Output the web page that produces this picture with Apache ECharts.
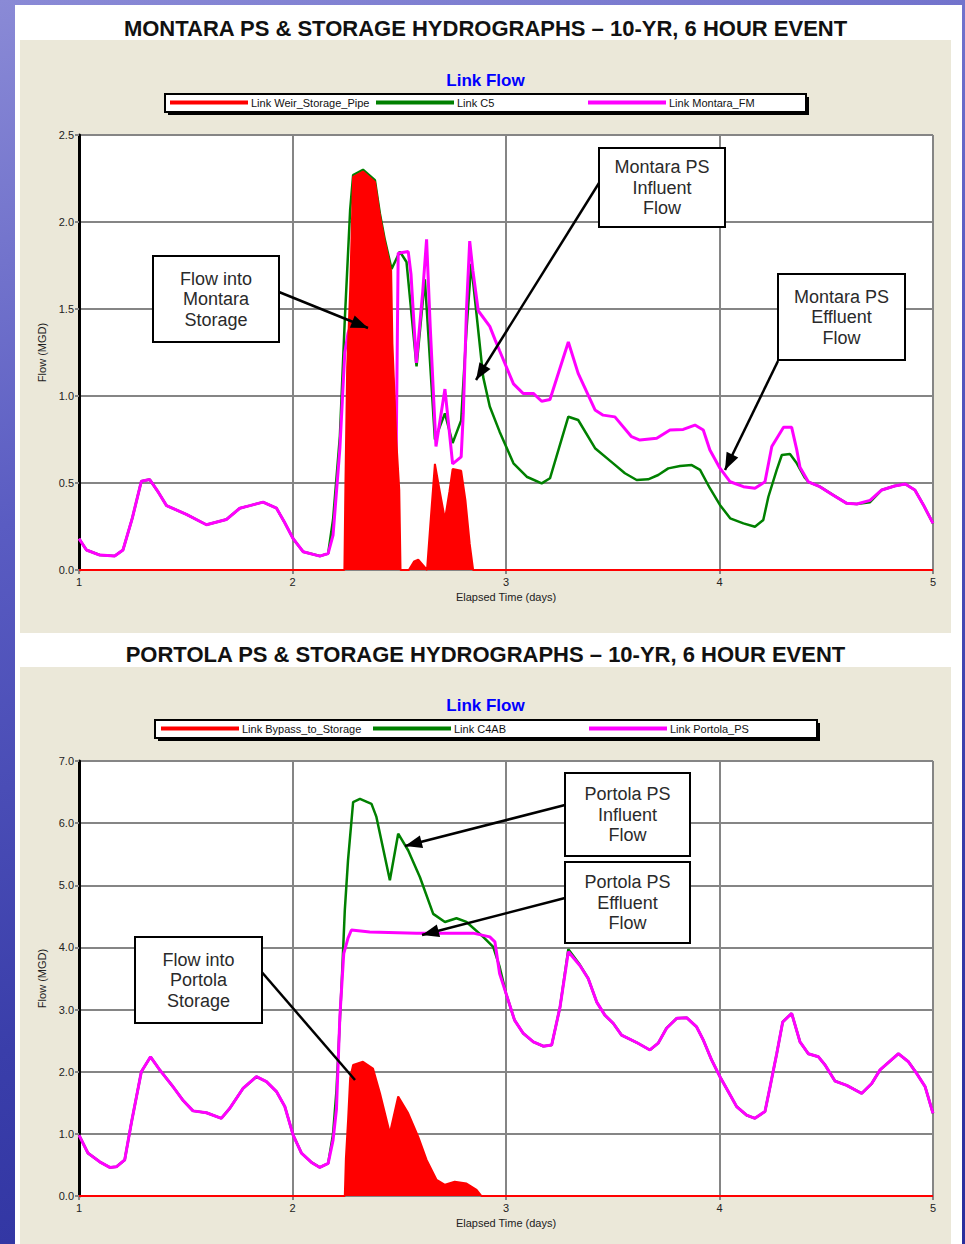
<!DOCTYPE html>
<html>
<head>
<meta charset="utf-8">
<title>Montara / Portola hydrographs</title>
<script src="https://cdn.jsdelivr.net/npm/echarts@6.0.0/dist/echarts.min.js"></script>
<style>
  html, body { margin: 0; padding: 0; }
  body {
    width: 965px; height: 1244px; position: relative; overflow: hidden;
    background: linear-gradient(165deg, #8a8ad6 0%, #5a5cc2 35%, #3a3eaa 70%, #2a2e9c 100%);
    font-family: 'Liberation Sans', Arial, sans-serif;
  }
  #sheet { position: absolute; left: 15px; top: 5px; width: 947px; height: 1239px; background: #fff; }
  .title {
    position: absolute; left: 20px; width: 931px; text-align: center;
    font-weight: bold; font-size: 22px; line-height: 26px; color: #111;
  }
  .panel { position: absolute; left: 20px; width: 931px; background: #ebe8d9; }
</style>
</head>
<body>
<div id="sheet"></div>
<div class="title" style="top:16px">MONTARA PS &amp; STORAGE HYDROGRAPHS – 10-YR, 6 HOUR EVENT</div>
<div class="panel" id="montara" style="top:40px;height:593px"></div>
<div class="title" style="top:642px">PORTOLA PS &amp; STORAGE HYDROGRAPHS – 10-YR, 6 HOUR EVENT</div>
<div class="panel" id="portola" style="top:667px;height:577px"></div>
<script>
// 横轴: 天 (1-5), 纵轴: 流量 MGD
var dayTicks = [1, 2, 3, 4, 5];

// ---- Montara ----
var montaraNames = ['Link Weir_Storage_Pipe', 'Link C5', 'Link Montara_FM'];
var montaraTicks = [0, 0.5, 1.0, 1.5, 2.0, 2.5];

// 进入蓄水池流量 (红色面积)
var montaraStorage = [
  [1.0, 0], [2.243, 0], [2.248, 0.5], [2.256, 1.16], [2.27, 1.61], [2.284, 2.26], [2.33, 2.29],
  [2.386, 2.23], [2.409, 2.04], [2.432, 1.89], [2.462, 1.72], [2.468, 1.30], [2.486, 0.75],
  [2.50, 0.46], [2.506, 0], [2.545, 0], [2.57, 0.05], [2.589, 0.06], [2.61, 0.03], [2.63, 0],
  [2.645, 0.25], [2.667, 0.61], [2.69, 0.45], [2.714, 0.29], [2.735, 0.45], [2.75, 0.58],
  [2.79, 0.57], [2.81, 0.40], [2.83, 0.15], [2.846, 0], [5.0, 0]
];

// C5 泵站进水
var montaraC5 = [
  [1.0, 0.18], [1.035, 0.115], [1.097, 0.086], [1.167, 0.08], [1.206, 0.115], [1.25, 0.30],
  [1.292, 0.51], [1.331, 0.52], [1.37, 0.45], [1.41, 0.37], [1.503, 0.32], [1.597, 0.26],
  [1.69, 0.29], [1.753, 0.355], [1.80, 0.37], [1.862, 0.39], [1.925, 0.355], [1.96, 0.28],
  [2.003, 0.18], [2.05, 0.105], [2.128, 0.08], [2.167, 0.095], [2.19, 0.29], [2.222, 0.77],
  [2.245, 1.44], [2.27, 2.07], [2.284, 2.27], [2.33, 2.30], [2.386, 2.24], [2.409, 2.05],
  [2.432, 1.90], [2.464, 1.73], [2.503, 1.83], [2.534, 1.77], [2.581, 1.17], [2.62, 1.67],
  [2.667, 0.75], [2.714, 0.90], [2.75, 0.73], [2.79, 0.86], [2.815, 1.38], [2.837, 1.76],
  [2.893, 1.11], [2.924, 0.94], [2.97, 0.795], [3.035, 0.613], [3.097, 0.536], [3.167, 0.498],
  [3.206, 0.527], [3.292, 0.881], [3.338, 0.862], [3.417, 0.70], [3.502, 0.613], [3.557, 0.556],
  [3.612, 0.517], [3.666, 0.521], [3.713, 0.546], [3.76, 0.584], [3.815, 0.598], [3.87, 0.603],
  [3.909, 0.575], [3.955, 0.47], [4.002, 0.374], [4.05, 0.297], [4.112, 0.268], [4.166, 0.249],
  [4.205, 0.287], [4.229, 0.421], [4.268, 0.575], [4.292, 0.661], [4.33, 0.667], [4.362, 0.613],
  [4.40, 0.53], [4.416, 0.507], [4.47, 0.479], [4.533, 0.43], [4.596, 0.383], [4.643, 0.379],
  [4.705, 0.39], [4.76, 0.46], [4.82, 0.483], [4.87, 0.494], [4.915, 0.46], [4.955, 0.374], [5.0, 0.268]
];

// 压力管出水
var montaraFm = [
  [1.0, 0.18], [1.035, 0.115], [1.097, 0.086], [1.167, 0.08], [1.206, 0.115], [1.25, 0.30],
  [1.292, 0.51], [1.331, 0.52], [1.37, 0.45], [1.41, 0.37], [1.503, 0.32], [1.597, 0.26],
  [1.69, 0.29], [1.753, 0.355], [1.80, 0.37], [1.862, 0.39], [1.925, 0.355], [1.96, 0.28],
  [2.003, 0.18], [2.05, 0.105], [2.128, 0.08], [2.167, 0.095], [2.19, 0.20], [2.206, 0.45],
  [2.222, 0.70], [2.245, 1.25], [2.26, 1.36], [2.30, 1.50], [2.40, 1.50], [2.47, 1.10],
  [2.485, 0.60], [2.495, 1.82], [2.542, 1.83], [2.555, 1.70], [2.58, 1.19], [2.61, 1.60],
  [2.628, 1.90], [2.645, 1.40], [2.672, 0.71], [2.714, 1.04], [2.73, 0.85], [2.75, 0.61],
  [2.79, 0.65], [2.80, 0.90], [2.815, 1.50], [2.83, 1.89], [2.845, 1.72], [2.87, 1.49],
  [2.924, 1.40], [2.95, 1.32], [2.97, 1.26], [3.035, 1.07], [3.08, 1.015], [3.128, 1.015],
  [3.167, 0.97], [3.206, 0.98], [3.292, 1.31], [3.338, 1.13], [3.417, 0.92], [3.455, 0.89],
  [3.51, 0.88], [3.588, 0.766], [3.627, 0.747], [3.706, 0.757], [3.768, 0.805], [3.83, 0.808],
  [3.885, 0.833], [3.924, 0.805], [3.955, 0.69], [4.002, 0.585], [4.05, 0.507], [4.112, 0.479],
  [4.166, 0.47], [4.213, 0.507], [4.245, 0.71], [4.30, 0.82], [4.338, 0.82], [4.362, 0.69],
  [4.377, 0.59], [4.416, 0.507], [4.47, 0.479], [4.533, 0.43], [4.596, 0.383], [4.643, 0.379],
  [4.705, 0.40], [4.76, 0.46], [4.82, 0.483], [4.87, 0.494], [4.915, 0.46], [4.955, 0.374], [5.0, 0.268]
];

// ---- Portola ----
var portolaNames = ['Link Bypass_to_Storage', 'Link C4AB', 'Link Portola_PS'];
var portolaTicks = [0, 1, 2, 3, 4, 5, 6, 7];

var portolaStorage = [
  [1.0, 0], [2.245, 0], [2.25, 0.6], [2.26, 1.2], [2.27, 1.9], [2.284, 2.11], [2.33, 2.16],
  [2.377, 2.05], [2.41, 1.65], [2.456, 1.01], [2.495, 1.60], [2.542, 1.33], [2.589, 0.95],
  [2.628, 0.58], [2.675, 0.26], [2.714, 0.18], [2.76, 0.23], [2.815, 0.20], [2.862, 0.10],
  [2.885, 0], [5.0, 0]
];

var portolaC4ab = [
  [1.0, 0.98], [1.042, 0.69], [1.097, 0.55], [1.144, 0.46], [1.175, 0.47], [1.214, 0.58],
  [1.245, 1.17], [1.292, 2.0], [1.335, 2.24], [1.378, 2.03], [1.44, 1.76], [1.487, 1.54],
  [1.534, 1.37], [1.597, 1.34], [1.667, 1.25], [1.706, 1.41], [1.768, 1.73], [1.831, 1.92],
  [1.878, 1.84], [1.925, 1.68], [1.964, 1.44], [2.003, 0.98], [2.042, 0.69], [2.089, 0.54],
  [2.128, 0.46], [2.167, 0.525], [2.19, 1.0], [2.206, 1.70], [2.23, 3.4], [2.245, 4.6],
  [2.26, 5.4], [2.284, 6.34], [2.316, 6.39], [2.37, 6.31], [2.393, 6.10], [2.456, 5.08],
  [2.495, 5.83], [2.542, 5.56], [2.597, 5.13], [2.659, 4.54], [2.714, 4.41], [2.768, 4.47],
  [2.815, 4.41], [2.893, 4.17], [2.94, 4.01], [2.97, 3.69], [3.0, 3.26], [3.04, 2.83],
  [3.08, 2.62], [3.128, 2.48], [3.175, 2.41], [3.214, 2.43], [3.253, 3.04], [3.292, 3.97],
  [3.346, 3.72], [3.385, 3.50], [3.425, 3.12], [3.463, 2.91], [3.502, 2.78], [3.541, 2.59],
  [3.612, 2.47], [3.674, 2.35], [3.713, 2.46], [3.752, 2.70], [3.80, 2.86], [3.846, 2.87],
  [3.893, 2.72], [3.924, 2.51], [3.963, 2.19], [4.002, 1.92], [4.041, 1.68], [4.08, 1.44],
  [4.127, 1.30], [4.166, 1.25], [4.213, 1.36], [4.237, 1.76], [4.268, 2.29], [4.296, 2.80],
  [4.338, 2.94], [4.377, 2.48], [4.416, 2.29], [4.463, 2.24], [4.494, 2.11], [4.541, 1.85],
  [4.596, 1.78], [4.666, 1.65], [4.713, 1.81], [4.752, 2.03], [4.838, 2.29], [4.885, 2.16],
  [4.924, 1.97], [4.963, 1.76], [5.0, 1.33]
];

var portolaPs = [
  [1.0, 0.98], [1.042, 0.69], [1.097, 0.55], [1.144, 0.46], [1.175, 0.47], [1.214, 0.58],
  [1.245, 1.17], [1.292, 2.0], [1.335, 2.24], [1.378, 2.03], [1.44, 1.76], [1.487, 1.54],
  [1.534, 1.37], [1.597, 1.34], [1.667, 1.25], [1.706, 1.41], [1.768, 1.73], [1.831, 1.92],
  [1.878, 1.84], [1.925, 1.68], [1.964, 1.44], [2.003, 0.98], [2.042, 0.69], [2.089, 0.54],
  [2.128, 0.46], [2.167, 0.525], [2.19, 0.9], [2.206, 1.4], [2.222, 2.9], [2.24, 3.9],
  [2.26, 4.15], [2.276, 4.28], [2.362, 4.25], [2.581, 4.23], [2.846, 4.23], [2.924, 4.17],
  [2.948, 4.09], [2.97, 3.58], [3.0, 3.26], [3.04, 2.83], [3.08, 2.62], [3.128, 2.48],
  [3.175, 2.41], [3.214, 2.43], [3.253, 3.04], [3.292, 3.93], [3.346, 3.71], [3.385, 3.50],
  [3.425, 3.12], [3.463, 2.91], [3.502, 2.78], [3.541, 2.59], [3.612, 2.47], [3.674, 2.35],
  [3.713, 2.46], [3.752, 2.70], [3.80, 2.86], [3.846, 2.87], [3.893, 2.72], [3.924, 2.51],
  [3.963, 2.19], [4.002, 1.92], [4.041, 1.68], [4.08, 1.44], [4.127, 1.30], [4.166, 1.25],
  [4.213, 1.36], [4.237, 1.76], [4.268, 2.29], [4.296, 2.80], [4.338, 2.94], [4.377, 2.48],
  [4.416, 2.29], [4.463, 2.24], [4.494, 2.11], [4.541, 1.85], [4.596, 1.78], [4.666, 1.65],
  [4.713, 1.81], [4.752, 2.03], [4.838, 2.29], [4.885, 2.16], [4.924, 1.97], [4.963, 1.76],
  [5.0, 1.33]
];

var RED = '#ff0000', GREEN = '#008000', MAGENTA = '#ff00ff';
var GRID_GRAY = '#858585';
var FONT = "'Liberation Sans', Arial, sans-serif";

// 箭头 (线 + 三角)
function arrowLine(x1, y1, x2, y2, withHead) {
  var els = [{
    type: 'line', z: 20,
    shape: { x1: x1, y1: y1, x2: x2, y2: y2 },
    style: { stroke: '#000', lineWidth: 2.5 }
  }];
  if (withHead) {
    var dx = x2 - x1, dy = y2 - y1, len = Math.sqrt(dx * dx + dy * dy);
    dx /= len; dy /= len;
    var L = 17, W = 13;
    var bx = x2 - dx * L, by = y2 - dy * L;
    els.push({
      type: 'polygon', z: 21,
      shape: { points: [[x2, y2], [bx - dy * W / 2, by + dx * W / 2], [bx + dy * W / 2, by - dx * W / 2]] },
      style: { fill: '#000' }
    });
  }
  return els;
}

// 注释框
function noteBox(x, y, w, h, text) {
  return [{
    type: 'rect', z: 22,
    shape: { x: x, y: y, width: w, height: h },
    style: { fill: '#fff', stroke: '#000', lineWidth: 2 }
  }, {
    type: 'text', z: 23,
    style: {
      x: x + w / 2, y: y + h / 2, text: text, fill: '#2a2a2a',
      fontSize: 18, fontFamily: FONT, lineHeight: 20.5,
      align: 'center', verticalAlign: 'middle'
    }
  }];
}

// 图例外框 (白底黑边 + 阴影)
function legendFrame(x, y, w, h) {
  return [{
    type: 'rect', z: 1,
    shape: { x: x + 3, y: y + 3, width: w, height: h },
    style: { fill: '#000' }
  }, {
    type: 'rect', z: 1,
    shape: { x: x, y: y, width: w, height: h },
    style: { fill: '#fff', stroke: '#000', lineWidth: 2 }
  }];
}

// 每个图例项单独放置 (固定间距)
function legendItems(names, lefts, top) {
  return names.map(function (name, i) {
    return {
      data: [name], left: lefts[i], top: top,
      padding: 0, itemWidth: 78, itemHeight: 4, icon: 'rect',
      textStyle: { fontSize: 11, color: '#111', padding: [0, 0, 0, -2] },
      selectedMode: false
    };
  });
}

function buildOption(cfg) {
  var axisText = { fontSize: 11, color: '#222', fontFamily: FONT };
  return {
    animation: false,
    textStyle: { fontFamily: FONT },
    title: {
      text: 'Link Flow', left: 'center', top: cfg.titleTop,
      textStyle: { color: '#0000ff', fontSize: 17, fontWeight: 'bold', fontFamily: FONT }
    },
    legend: legendItems(cfg.names, cfg.legendLefts, cfg.legendTop),
    grid: {
      left: 59, top: cfg.gridTop, width: 854, height: 435,
      show: true, backgroundColor: '#fff', borderWidth: 0
    },
    xAxis: {
      type: 'value', min: dayTicks[0], max: dayTicks[dayTicks.length - 1], interval: 1,
      name: 'Elapsed Time (days)', nameLocation: 'middle', nameGap: 20,
      nameTextStyle: axisText,
      axisLine: { show: true, lineStyle: { color: GRID_GRAY, width: 2 } },
      axisTick: { show: true, length: 4, lineStyle: { color: GRID_GRAY, width: 2 } },
      axisLabel: Object.assign({ margin: 6 }, axisText),
      splitLine: { show: true, lineStyle: { color: GRID_GRAY, width: 2 } }
    },
    yAxis: {
      type: 'value', min: cfg.ticks[0], max: cfg.ticks[cfg.ticks.length - 1],
      interval: cfg.ticks[1] - cfg.ticks[0],
      name: 'Flow (MGD)', nameLocation: 'middle', nameGap: 26,
      nameTextStyle: axisText,
      axisLine: { show: true, onZero: false, lineStyle: { color: '#000', width: 3 } },
      axisTick: { show: true, length: 4, lineStyle: { color: GRID_GRAY, width: 2 } },
      axisLabel: Object.assign({ margin: 5, formatter: function (v) { return v.toFixed(1); } }, axisText),
      splitLine: { show: true, lineStyle: { color: GRID_GRAY, width: 2 } }
    },
    series: [{
      name: cfg.names[1], type: 'line', data: cfg.inflow, symbol: 'none', z: 2,
      lineStyle: { color: GREEN, width: 2.5 }, itemStyle: { color: GREEN }
    }, {
      name: cfg.names[2], type: 'line', data: cfg.outflow, symbol: 'none', z: 3,
      lineStyle: { color: MAGENTA, width: 3 }, itemStyle: { color: MAGENTA }
    }, {
      name: cfg.names[0], type: 'line', data: cfg.storage, symbol: 'none', z: 4,
      lineStyle: { color: RED, width: 2 }, itemStyle: { color: RED },
      areaStyle: { color: RED, opacity: 1 }
    }],
    graphic: cfg.graphics
  };
}

var chartTop = echarts.init(document.getElementById('montara'), null, { renderer: 'svg' });
chartTop.setOption(buildOption({
  names: montaraNames, ticks: montaraTicks,
  storage: montaraStorage, inflow: montaraC5, outflow: montaraFm,
  gridTop: 95, titleTop: 27, legendLefts: [150, 356, 568], legendTop: 57,
  graphics: [].concat(
    legendFrame(145, 54, 641, 18),
    arrowLine(259, 252, 348, 288, true),
    noteBox(133, 216, 126, 86, 'Flow into\nMontara\nStorage'),
    arrowLine(579, 143, 456, 340, true),
    noteBox(579, 108, 126, 79, 'Montara PS\nInfluent\nFlow'),
    arrowLine(758, 321, 705, 430, true),
    noteBox(758, 234, 127, 86, 'Montara PS\nEffluent\nFlow')
  )
}));

var chartBottom = echarts.init(document.getElementById('portola'), null, { renderer: 'svg' });
chartBottom.setOption(buildOption({
  names: portolaNames, ticks: portolaTicks,
  storage: portolaStorage, inflow: portolaC4ab, outflow: portolaPs,
  gridTop: 94, titleTop: 25, legendLefts: [141, 353, 569], legendTop: 56,
  graphics: [].concat(
    legendFrame(135, 53, 662, 18),
    arrowLine(545, 138, 385, 179, true),
    noteBox(545, 106, 125, 83, 'Portola PS\nInfluent\nFlow'),
    arrowLine(545, 231, 402, 268, true),
    noteBox(545, 195, 125, 81, 'Portola PS\nEffluent\nFlow'),
    arrowLine(240, 303, 335, 413, false),
    noteBox(115, 270, 127, 86, 'Flow into\nPortola\nStorage')
  )
}));
</script>
</body>
</html>
